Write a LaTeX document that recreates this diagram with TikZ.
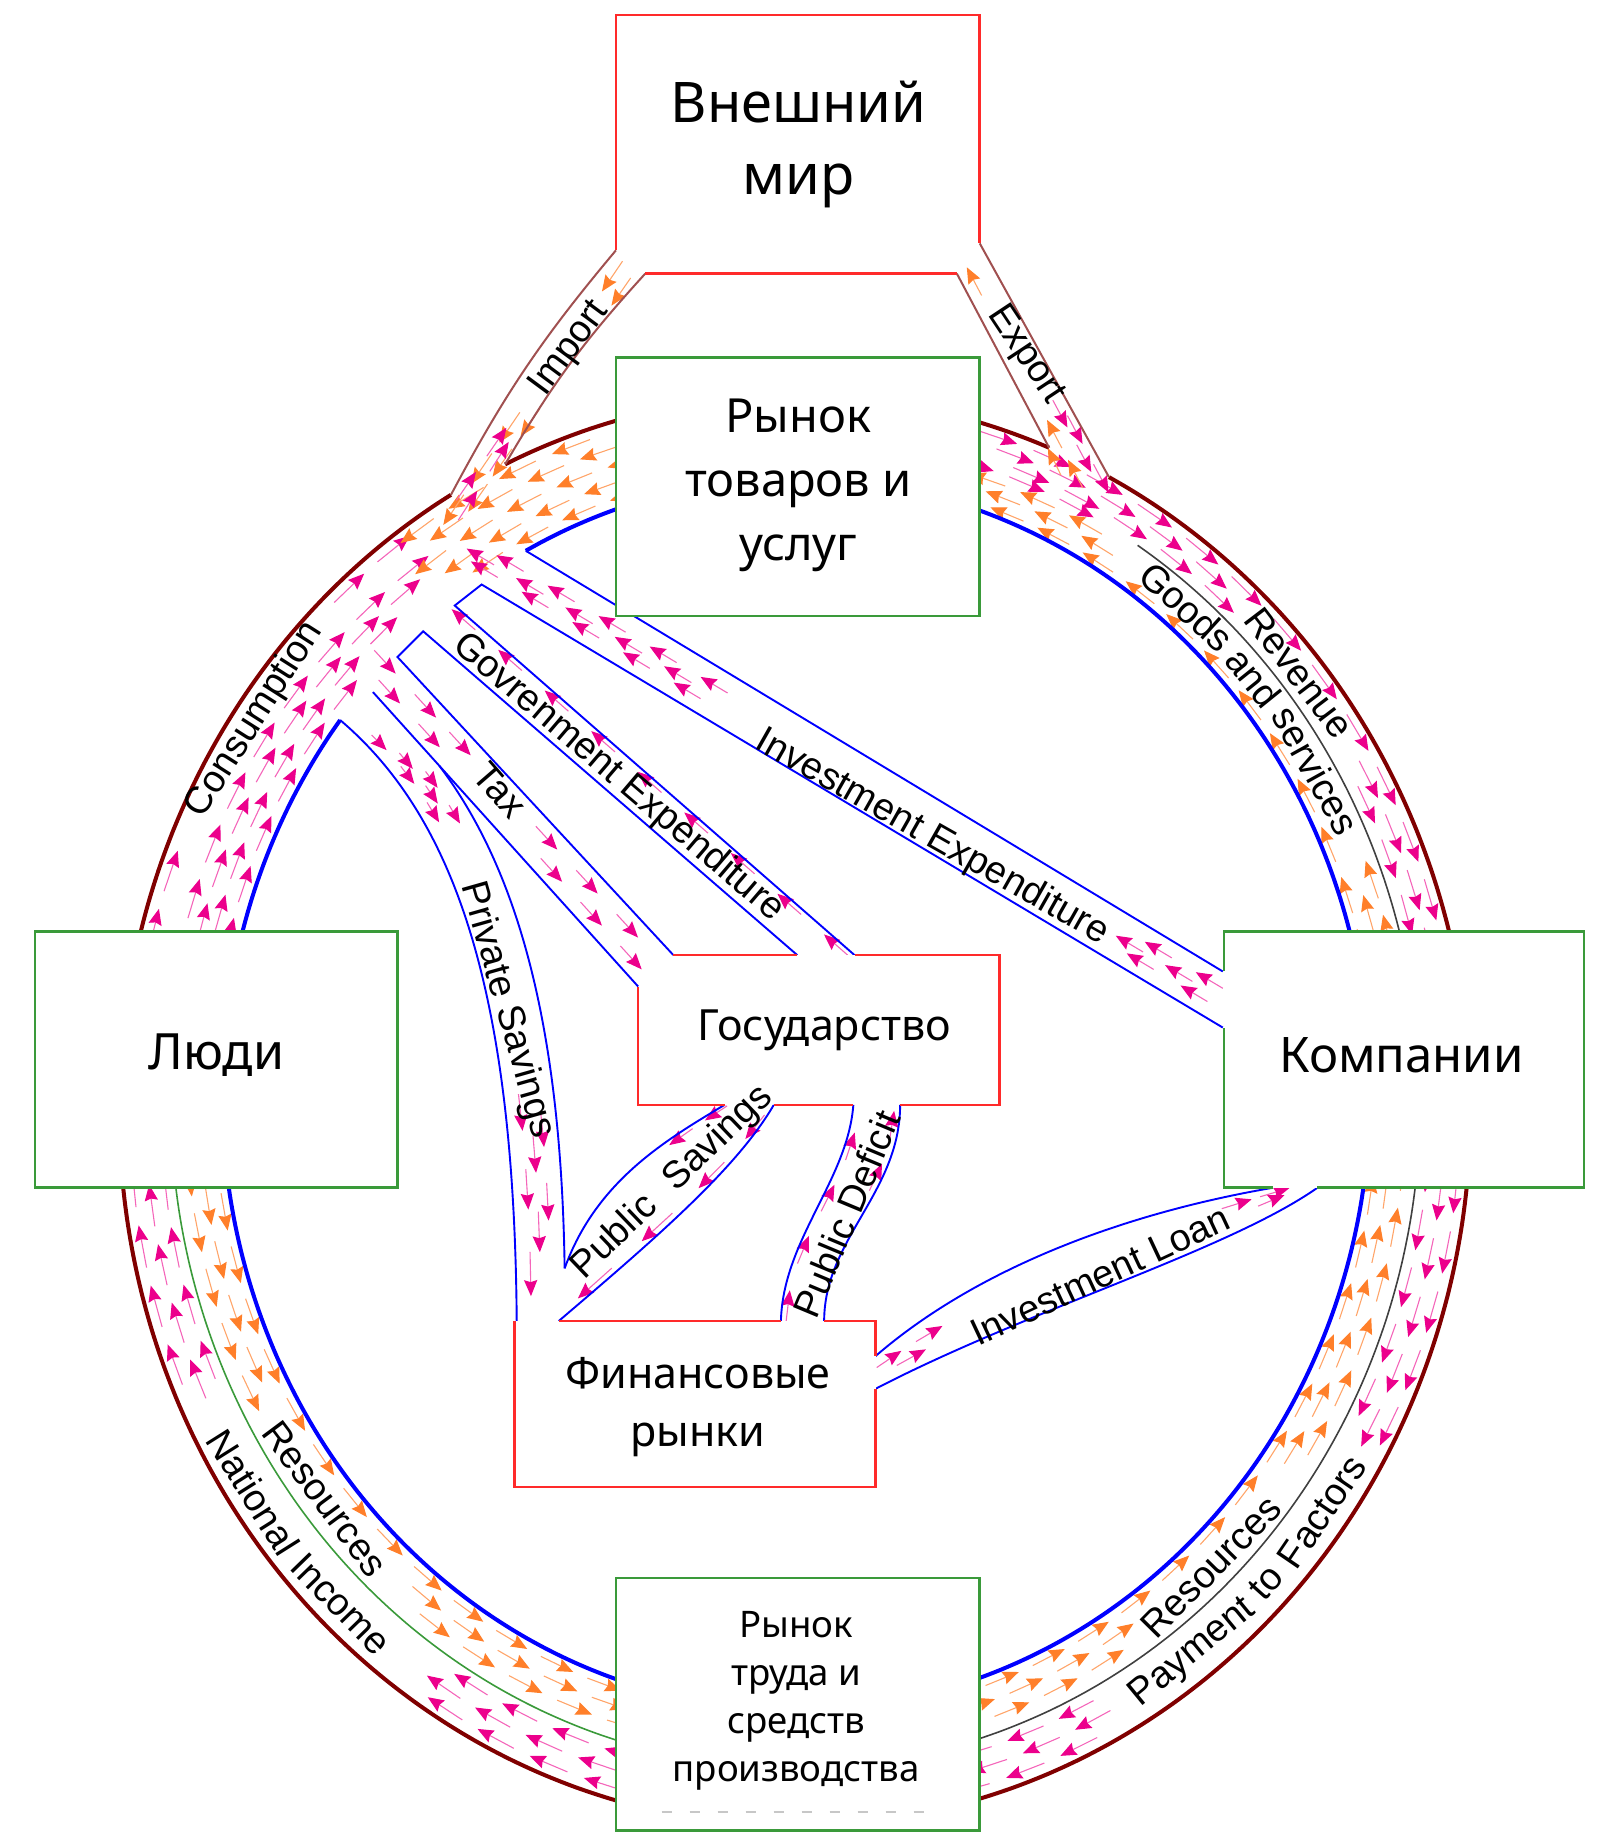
\documentclass[tikz,border=0pt]{standalone}
\usepackage{fontspec}
\setmainfont{Liberation Sans}
\newfontfamily\boxfont{Noto Sans}
\usetikzlibrary{arrows.meta,calc}
\definecolor{mred}{HTML}{800000}
\definecolor{bred}{HTML}{FF2A2A}
\definecolor{bgreen}{HTML}{3A9A3A}
\definecolor{aorange}{HTML}{FF7F2A}
\definecolor{ieline}{HTML}{A05050}
\definecolor{sepgray}{HTML}{404040}
\newcommand\lblfont{\fontsize{19}{22}\selectfont}
\tikzset{
  marr/.style={-{Stealth[length=8pt,width=6.6pt,inset=1pt,color=magenta]}, draw=magenta!60, line width=0.55pt},
  oarr/.style={-{Stealth[length=8pt,width=6.6pt,inset=1pt,color=aorange]}, draw=aorange!70, line width=0.55pt},
  ringm/.style={draw=mred, line width=2pt},
  ringb/.style={draw=blue, line width=2pt},
  bandln/.style={draw=blue, line width=0.95pt},
  ieln/.style={draw=ieline, line width=1pt},
  sepln/.style={line width=0.8pt},
  redbox/.style={draw=bred, line width=1.2pt},
  greenbox/.style={draw=bgreen, line width=1.3pt, fill=white},
  lab/.style={font=\lblfont, inner sep=0pt},
  blab/.style={align=center, inner sep=0pt},
}
% arrows along a ring lane: style, fraction across ring, list of angles, angular length (signed)
\newcommand\rarr[4]{\foreach \ta in {#3}{\draw[#1] ({681-#2+(491+87*#2)*cos(\ta)},{936+14*#2+(527+85*#2)*sin(\ta)}) -- ({681-#2+(491+87*#2)*cos(\ta+#4)},{936+14*#2+(527+85*#2)*sin(\ta+#4)});}}
% arrows along a path: style, path, list of pos, pos length
\newcommand\parr[4]{\foreach \sa in {#3}{\pgfmathsetmacro\sbb{\sa+#4}\path #2 coordinate[pos=\sa] (qa) coordinate[pos=\sbb] (qb); \draw[#1] (qa) -- (qb);}}
% straight label between two points
\newcommand\lbl[4]{\path let \p1=($#3-#2$), \n1={atan2(\y1,\x1)} in node[lab, rotate=\n1] (#1) at ($#2!0.5!#3$) {#4};}
% word on the ring: name, fraction, angle, direction (1 or (-1)), text
\newcommand\rword[5]{\path let \p1=({681-#2+(491+87*#2)*cos(#3+#4)},{936+14*#2+(527+85*#2)*sin(#3+#4)}), \p2=({681-#2+(491+87*#2)*cos(#3-#4)},{936+14*#2+(527+85*#2)*sin(#3-#4)}), \n1={atan2(\y1-\y2,\x1-\x2)} in node[lab, rotate=\n1] (#1) at ({681-#2+(491+87*#2)*cos(#3)},{936+14*#2+(527+85*#2)*sin(#3)}) {#5};}
\begin{document}
\begin{tikzpicture}[x=0.5845pt,y=-0.5845pt]
\useasboundingbox (0,0) rectangle (1368,1568);
\coordinate (imL) at ({680+578*cos(239.4)},{950+612*sin(239.4)});
\coordinate (imR) at ({680+578*cos(-115.4)},{950+612*sin(-115.4)});
\coordinate (exL) at ({680+578*cos(-67.9)},{950+612*sin(-67.9)});
\coordinate (exR) at ({680+578*cos(-62.3)},{950+612*sin(-62.3)});
\coordinate (invT) at ({681+491*cos(-118.1)},{936+527*sin(-118.1)});
\coordinate (psL) at ({681+491*cos(217.4)},{936+527*sin(217.4)});

% ---------- ring arrows
% Consumption (money up to the goods market)
\rarr{marr}{0.12}{193,198,...,218}{3.5}
\rarr{marr}{0.27}{195,200,...,225}{3.5}
\rarr{marr}{0.42}{194,199,...,229}{3.5}
\rarr{marr}{0.57}{196,201,...,231}{3.5}
\rarr{marr}{0.88}{193,198}{3.5}
\rarr{marr}{0.88}{226,231}{3.5}
% hub: goods from the goods market
\rarr{oarr}{0.12}{-105,-110,...,-120}{(-3.5)}
\rarr{oarr}{0.3}{-107,-112,...,-122}{(-3.5)}
\rarr{oarr}{0.5}{-104,-109,...,-124}{(-3.5)}
\rarr{oarr}{0.7}{-106,-111,...,-121}{(-3.5)}
\rarr{oarr}{0.88}{-108,-113,...,-123}{(-3.5)}
% right top: revenue (outer) and goods and services (inner)
\rarr{marr}{0.9}{-74,-69,...,-19}{3.5}
\rarr{marr}{0.76}{-72,-67,...,-52}{3.5}
\rarr{marr}{0.76}{-30,-25,...,-15}{3.5}
\rarr{marr}{0.62}{-70,-65,...,-50}{3.5}
\rarr{marr}{0.62}{-28,-23,-18}{3.5}
\rarr{marr}{0.5}{-75,-70,-65}{3.5}
\rarr{oarr}{0.08}{-12,-17,...,-72}{(-3.5)}
\rarr{oarr}{0.24}{-10,-15}{(-3.5)}
\rarr{oarr}{0.24}{-58,-63,...,-73}{(-3.5)}
\rarr{oarr}{0.38}{-13,-18}{(-3.5)}
\rarr{oarr}{0.38}{-60,-65,...,-75}{(-3.5)}
% bottom right: resources (inner, up) and payment to factors (outer, down)
\rarr{oarr}{0.08}{76,71,...,11}{(-3.5)}
\rarr{oarr}{0.22}{74,69,...,59}{(-3.5)}
\rarr{oarr}{0.22}{35,30,...,10}{(-3.5)}
\rarr{oarr}{0.36}{76,71,...,61}{(-3.5)}
\rarr{oarr}{0.36}{33,28,...,8}{(-3.5)}
\rarr{marr}{0.6}{4,9,...,24}{3.5}
\rarr{marr}{0.6}{62,67,72}{3.5}
\rarr{marr}{0.75}{6,11,...,26}{3.5}
\rarr{marr}{0.75}{61,66,71}{3.5}
\rarr{marr}{0.9}{5,10,...,25}{3.5}
\rarr{marr}{0.9}{63,68,73}{3.5}
% bottom left: resources (inner, down) and national income (outer, up)
\rarr{oarr}{0.08}{176,171,...,111}{(-3.5)}
\rarr{oarr}{0.22}{177,172,...,157}{(-3.5)}
\rarr{oarr}{0.22}{130,125,...,110}{(-3.5)}
\rarr{oarr}{0.36}{175,170,...,155}{(-3.5)}
\rarr{oarr}{0.36}{128,123,...,108}{(-3.5)}
\rarr{marr}{0.6}{104,109,...,119}{3.5}
\rarr{marr}{0.6}{156,161,...,171}{3.5}
\rarr{marr}{0.75}{106,111,...,121}{3.5}
\rarr{marr}{0.75}{155,160,...,170}{3.5}
\rarr{marr}{0.9}{105,110,...,120}{3.5}
\rarr{marr}{0.9}{157,162,...,172}{3.5}

% ---------- ring lines
\draw[ringm] plot[domain=-62.3:239.4, samples=200, smooth, variable=\t] ({680+578*cos(\t)},{950+612*sin(\t)});
\draw[ringm] plot[domain=-115.4:-67.9, samples=40, smooth, variable=\t] ({680+578*cos(\t)},{950+612*sin(\t)});
\draw[ringb] plot[domain=-118.1:217.4, samples=200, smooth, variable=\t] ({681+491*cos(\t)},{936+527*sin(\t)});
\draw[sepln, sepgray] plot[domain=-56.8:-10, samples=40, smooth, variable=\t] ({680.5+534.5*cos(\t)},{943+569.5*sin(\t)});
\draw[sepln, sepgray] plot[domain=5:80, samples=60, smooth, variable=\t] ({680.5+534.5*cos(\t)},{943+569.5*sin(\t)});
\draw[sepln, bgreen] plot[domain=100:175, samples=60, smooth, variable=\t] ({680.5+534.5*cos(\t)},{943+569.5*sin(\t)});

% ---------- inner band arrows
% investment expenditure (towards the hub)
\parr{marr}{(1046,845.4) -- (404.2,462.7)}{0,0.068}{0.036}
\parr{marr}{(1046,845.4) -- (404.2,462.7)}{0.66,0.728,...,0.96}{0.036}
\parr{marr}{(1046,855) -- (396.6,467.7)}{0.04,0.105}{0.036}
\parr{marr}{(1046,855) -- (396.6,467.7)}{0.7,0.765,...,0.96}{0.036}
\parr{marr}{(1046,864.6) -- (389,472)}{0.02,0.09}{0.035}
\parr{marr}{(1046,864.6) -- (389,472)}{0.68,0.746,...,0.96}{0.035}
% government expenditure
\parr{marr}{(725.1,817) -- (363.2,500.9)}{0,0.11,...,0.9}{0.056}
% tax
\parr{marr}{(320.2,556.3) -- (567,825.1)}{0,0.14,0.26}{0.074}
\parr{marr}{(320.2,556.3) -- (567,825.1)}{0.56,0.7,0.84}{0.074}
\parr{marr}{(311.8,568.3) -- (555,835.9)}{0.05,0.19}{0.075}
\parr{marr}{(311.8,568.3) -- (555,835.9)}{0.62,0.76,0.9}{0.075}
% private savings
\parr{marr}{(317.9,628.7) .. controls (405,712) and (452,856) .. (454.3,1116.5)}{0,0.1,0.2}{0.05}
\parr{marr}{(317.9,628.7) .. controls (405,712) and (452,856) .. (454.3,1116.5)}{0.74,0.84,0.94}{0.05}
\parr{marr}{(334.5,636.5) .. controls (415,720) and (460,860) .. (462.5,1107.5)}{0.03,0.13}{0.05}
\parr{marr}{(334.5,636.5) .. controls (415,720) and (460,860) .. (462.5,1107.5)}{0.8,0.9}{0.05}
\parr{marr}{(351.1,644.3) .. controls (425,728) and (468,864) .. (470.7,1098.5)}{0.06,0.16}{0.05}
\parr{marr}{(351.1,644.3) .. controls (425,728) and (468,864) .. (470.7,1098.5)}{0.77,0.87}{0.05}
% public savings
\parr{marr}{(622,946) .. controls (575,977) and (514,1013) .. (482.6,1088)}{0,0.2}{0.13}
\parr{marr}{(659.5,946) .. controls (625,997) and (555,1056) .. (478.4,1125)}{0.05,0.3,0.55,0.8}{0.13}
% public deficit
\parr{marr}{(672.5,1130) .. controls (674,1060) and (730,1011) .. (735,946)}{0,0.25,0.5,0.75}{0.13}
\parr{marr}{(700.5,1130) .. controls (700.5,1060) and (764,1018.5) .. (765,946)}{0.62,0.85}{0.13}
% investment loan
\parr{marr}{(750,1169.8) .. controls (847.5,1100.5) and (985,1050.5) .. (1103,1016.3)}{0,0.11}{0.07}
\parr{marr}{(750,1169.8) .. controls (847.5,1100.5) and (985,1050.5) .. (1103,1016.3)}{0.84,0.93}{0.07}
\parr{marr}{(750,1178.2) .. controls (862.5,1109.5) and (1015,1059.5) .. (1114,1015.7)}{0.05}{0.07}
\parr{marr}{(750,1178.2) .. controls (862.5,1109.5) and (1015,1059.5) .. (1114,1015.7)}{0.88}{0.07}
% import
\parr{oarr}{(540.5,211.7) -- (380.8,446.7)}{0.05}{0.11}
\parr{oarr}{(540.5,211.7) -- (380.8,446.7)}{0.6,0.75,0.9}{0.11}
\parr{oarr}{(551.4,220.6) -- (402,435.6)}{0.08}{0.11}
\parr{oarr}{(551.4,220.6) -- (402,435.6)}{0.6,0.76,0.9}{0.11}
\parr{marr}{(392,445) -- (452,352)}{0,0.45}{0.27}
\parr{marr}{(378,446) -- (440,356)}{0.2,0.62}{0.27}
% export
\parr{oarr}{(926.3,417.4) -- (820.7,216.6)}{0,0.17}{0.12}
\parr{oarr}{(926.3,417.4) -- (820.7,216.6)}{0.82}{0.12}
\parr{oarr}{(915,422) -- (822,229)}{0.08}{0.12}
\parr{marr}{(832.6,215.5) -- (946,427)}{0.6,0.78}{0.11}
\parr{marr}{(835.8,211) -- (953,430)}{0.66,0.85}{0.11}

% ---------- inner band outlines
\draw[bandln] (invT) -- (1046,831);
\draw[bandln] (1046,879) -- (412,500) -- (389,518) -- (731,817);
\draw[bandln] (682,817) -- (362,540) -- (340,562) -- (576,817);
\draw[bandln] (319,592) -- (546,844);
\draw[bandln] (376,655.3) .. controls (440,740) and (480,870) .. (483,1085);
\draw[bandln] (psL) .. controls (390,700) and (440,850) .. (442,1130);
\draw[bandln] (620,945) .. controls (570,975) and (510,1010) .. (483,1085);
\draw[bandln] (662,945) .. controls (630,1000) and (560,1060) .. (478,1130);
\draw[bandln] (730,945) .. controls (725,1010) and (670,1060) .. (668,1130);
\draw[bandln] (770,945) .. controls (770,1020) and (705,1060) .. (705,1130);
\draw[bandln] (749,1160) .. controls (830,1090) and (950,1040) .. (1089,1016);
\draw[bandln] (749,1188) .. controls (880,1120) and (1050,1070) .. (1127,1016);
\draw[ieln] (527,214) to[bend right=6] (imL);
\draw[ieln] (552,234) to[bend right=6] (imR);
\draw[ieln] (818.5,234) -- (exL);
\draw[ieln] (838,208) -- (exR);

% ---------- boxes
\fill[white] (527,214)--(527,13)--(838,13)--(838,208)--(818.5,234)--(552,234)--cycle;
\draw[redbox] (527,214)--(527,13)--(838,13)--(838,208) (552,234)--(818.5,234);
\draw[greenbox] (527,306) rectangle (838,527);
\draw[greenbox] (30,797) rectangle (340,1016);
\fill[white] (1047,797) rectangle (1355,1016);
\draw[greenbox, fill=none] (1047,831)--(1047,797)--(1355,797)--(1355,1016)--(1127,1016) (1089,1016)--(1047,1016)--(1047,879);
\fill[white] (546,844)--(576,817)--(855,817)--(855,945)--(546,945)--cycle;
\draw[redbox] (576,817)--(682,817) (731,817)--(855,817)--(855,945)--(770,945) (730,945)--(662,945) (620,945)--(546,945)--(546,844);
\fill[white] (440,1130) rectangle (749,1272);
\draw[redbox] (478,1130)--(668,1130) (705,1130)--(749,1130)--(749,1160) (749,1188)--(749,1272)--(440,1272)--(440,1130);
\draw[greenbox] (527,1350) rectangle (838,1566);
\draw[black!22, line width=0.9pt, dash pattern=on 5pt off 9pt] (566,1550) -- (805,1550);

% ---------- box texts
\node[blab, font=\boxfont\fontsize{28}{36}\selectfont] (world) at (683,124) {Внешний\\мир};
\node[blab, font=\boxfont\fontsize{23.5}{32}\selectfont] (gmarket) at (683,415) {Рынок\\товаров и\\услуг};
\node[blab, font=\boxfont\fontsize{25}{30}\selectfont] (people) at (185,903) {Люди};
\node[blab, font=\boxfont\fontsize{24.5}{30}\selectfont] (firms) at (1199,903) {Компании};
\node[blab, font=\boxfont\fontsize{21.5}{26}\selectfont] (gov) at (705,881) {Государство};
\node[blab, font=\boxfont\fontsize{21.5}{29}\selectfont] (fin) at (597,1204) {Финансовые\\рынки};
\node[blab, font=\boxfont\fontsize{18.3}{24}\selectfont] (labor) at (681,1455) {Рынок\\труда и\\средств\\производства};

% ---------- flow labels
\lbl{limp}{(459,336.5)}{(516,259.5)}{Import}
\lbl{lexp}{(850,262)}{(905,345)}{Export}
\lbl{linv}{(650,633)}{(945,800)}{Investment Expenditure}
\lbl{lgov}{(393.5,550)}{(664.5,781)}{Govrenment Expenditure}
\lbl{ltax}{(410.6,656)}{(444.9,695.6)}{Tax}
\lbl{lpriv}{(402,753)}{(465,975)}{Private Savings}
\lbl{lpubs}{(495,1088)}{(655,935)}{Public\hspace{0.35em} Savings}
\lbl{lpubd}{(688,1125)}{(760,952)}{Public Deficit}
\lbl{lloan}{(832,1142)}{(1050,1040)}{Investment Loan}
\rword{lcons}{0.77}{214}{1}{Consumption}
\rword{lrev}{0.73}{-39}{1}{Revenue}
\rword{lgoodsa}{0.3}{-49.7}{1}{Goods}
\rword{lgoodsb}{0.3}{-40.75}{1}{and}
\rword{lgoodsc}{0.3}{-30.6}{1}{services}
\rword{lresa}{0.29}{46.5}{(-1)}{Resources}
\rword{lpaya}{0.75}{52.3}{(-1)}{Payment}
\rword{lpayb}{0.75}{43.6}{(-1)}{to}
\rword{lpayc}{0.75}{35.9}{(-1)}{Factors}
\rword{lresb}{0.27}{141.5}{(-1)}{Resources}
\rword{lnata}{0.77}{146.2}{(-1)}{National}
\rword{lnatb}{0.77}{134.1}{(-1)}{Income}
\end{tikzpicture}
\end{document}
